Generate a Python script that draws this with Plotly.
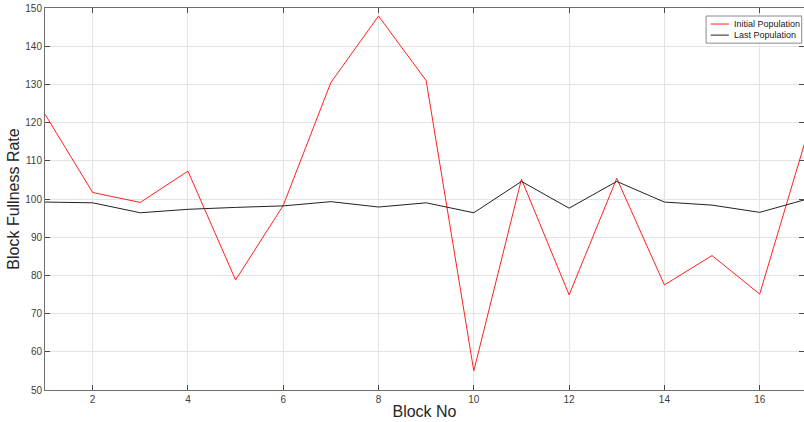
import plotly.graph_objects as go

blocks = list(range(1, 18))
initial_population = [122.2, 101.7, 99.1, 107.3, 78.8, 98.3, 130.5, 147.9, 131.0, 55.0,
                      105.2, 74.9, 105.4, 77.5, 85.2, 75.1, 117.0]
last_population = [99.2, 99.0, 96.4, 97.3, 97.8, 98.2, 99.3, 97.9, 99.0, 96.4,
                   104.6, 97.6, 104.6, 99.2, 98.4, 96.5, 100.0]
series_names = ["Initial Population", "Last Population"]
series_colors = ["#ff2020", "#222222"]
x_ticks = [2, 4, 6, 8, 10, 12, 14, 16]
y_ticks = [50, 60, 70, 80, 90, 100, 110, 120, 130, 140, 150]

FONT = "Liberation Sans, Arial, sans-serif"

fig = go.Figure()
for name, vals, col in zip(series_names, [initial_population, last_population], series_colors):
    fig.add_trace(go.Scatter(x=blocks, y=vals, mode="lines", name=name,
                             line=dict(color=col, width=1), showlegend=False))

axis_common = dict(
    showgrid=True, gridcolor="#e3e3e3", gridwidth=1,
    showline=True, linecolor="#6e6e6e", linewidth=1,
    mirror="ticks", ticks="inside", ticklen=5, tickcolor="#4a4a4a",
    tickfont=dict(family=FONT, size=10, color="#404040"),
    zeroline=False, automargin=False,
)

# compact MATLAB-style legend box (paper coordinates)
shapes = [dict(type="rect", xref="paper", yref="paper", x0=0.871, x1=0.997, y0=0.908, y1=0.979,
               line=dict(color="#8a8a8a", width=1), fillcolor="white", layer="above")]
annotations = []
for i, (name, col) in enumerate(zip(series_names, series_colors)):
    yy = 0.958 - i * 0.029
    shapes.append(dict(type="line", xref="paper", yref="paper", x0=0.877, x1=0.901, y0=yy, y1=yy,
                       line=dict(color=col, width=1), layer="above"))
    annotations.append(dict(text=name, xref="paper", yref="paper", x=0.905, y=yy,
                            xanchor="left", yanchor="middle", showarrow=False,
                            font=dict(family=FONT, size=9, color="#202020")))

fig.update_layout(
    width=804, height=422,
    margin=dict(l=45, r=0, t=8, b=32),
    paper_bgcolor="white", plot_bgcolor="white",
    showlegend=False,
    shapes=shapes, annotations=annotations,
    xaxis=dict(range=[1, 16.93], tickvals=x_ticks,
               title=dict(text="Block No", standoff=1,
                          font=dict(family=FONT, size=16, color="#262626")),
               **axis_common),
    yaxis=dict(range=[50, 150], tickvals=y_ticks,
               title=dict(text="Block Fullness Rate", standoff=1,
                          font=dict(family=FONT, size=16, color="#262626")),
               **axis_common),
)

fig.write_html("out.html", config={"displayModeBar": False})

with open("out.html", "r", encoding="utf-8") as f:
    html = f.read()
html = html.replace("<head>", "<head><style>html,body{margin:0;padding:0;overflow:hidden;}</style>", 1)
with open("out.html", "w", encoding="utf-8") as f:
    f.write(html)
